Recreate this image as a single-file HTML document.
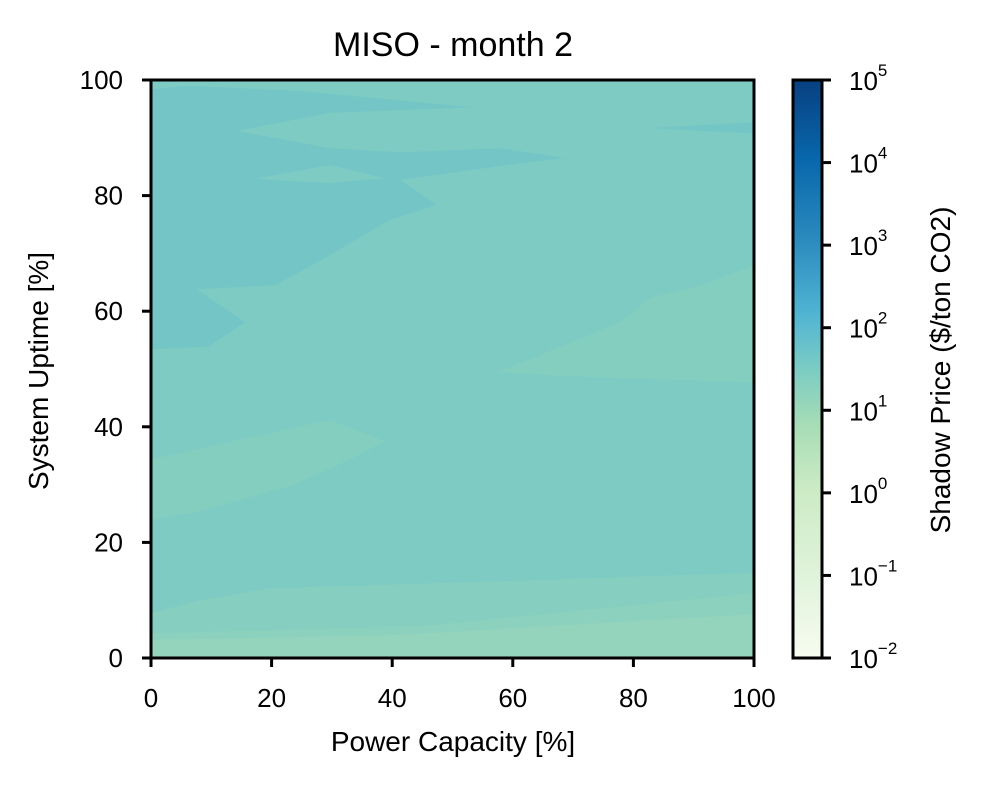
<!DOCTYPE html>
<html><head><meta charset="utf-8"><style>
body{margin:0;background:#fff;}
svg text{font-family:"Liberation Sans",Arial,sans-serif;fill:#000;}
</style></head><body>
<svg id="chart" width="986" height="788" viewBox="0 0 986 788" xmlns="http://www.w3.org/2000/svg">
<defs>
<linearGradient id="cbgrad" x1="0" y1="1" x2="0" y2="0">
<stop offset="0" stop-color="#f7fcf0"/>
<stop offset="0.14" stop-color="#e0f3db"/>
<stop offset="0.29" stop-color="#ccebc5"/>
<stop offset="0.40" stop-color="#a8ddb5"/>
<stop offset="0.50" stop-color="#7bccc4"/>
<stop offset="0.60" stop-color="#4eb3d3"/>
<stop offset="0.72" stop-color="#2b8cbe"/>
<stop offset="0.86" stop-color="#0868ac"/>
<stop offset="1" stop-color="#084081"/>
</linearGradient>
</defs>
<text x="453" y="56" font-size="34" text-anchor="middle">MISO - month 2</text>
<g id="plot"></g>
<rect x="151" y="80" width="603" height="578" fill="none" stroke="#000" stroke-width="3"/>
<g id="xticks"></g>
<g id="yticks"></g>
<text x="453" y="751" font-size="28" text-anchor="middle">Power Capacity [%]</text>
<text transform="translate(48,371) rotate(-90)" font-size="28" text-anchor="middle">System Uptime [%]</text>
<rect x="793" y="80" width="29" height="578" fill="url(#cbgrad)" stroke="#000" stroke-width="3"/>
<g id="cbticks"></g>
<text transform="translate(950,370) rotate(-90)" font-size="28" text-anchor="middle">Shadow Price ($/ton CO2)</text>
</svg>
<script>
const xTicks=[0,20,40,60,80,100];
const yTicks=[0,20,40,60,80,100];
const cbExponents=[-2,-1,0,1,2,3,4,5];
const regionNames=['base','dark-upper-left','light-island','dark-right-sliver','light-right-middle','light-lower-left','band-1','band-2','band-3'];
const regionColors=['#7dcbc3','#74c6c6','#7dcbc3','#74c6c6','#84cec0','#84cec0','#85cec0','#8cd1be','#94d3bc'];
const regionPolys=[
 [[0,0],[100,0],[100,100],[0,100]],
 [[0,98.4],[6.5,99],[24.7,98.1],[53.2,95.3],[29.7,94.3],[14.3,91.2],[29.7,88.2],[41.3,87.5],[57.9,88.2],[68.7,86.5],[61.2,85.6],[41.3,82.7],[47.4,78.4],[39.6,75.8],[29.7,69.7],[20.6,64.5],[7.6,63.8],[15.6,58.1],[9.6,53.9],[0,53.4]],
 [[17.7,83.0],[29.7,85.3],[38.8,83.0],[29.7,82.2],[19.7,82.7]],
 [[82.8,91.7],[100,92.7],[100,90.8],[91.2,91.2]],
 [[57.4,49.5],[64.5,52.4],[77.8,58.1],[82.8,62.3],[91.2,64.5],[100,68.0],[100,47.6],[87.7,48.1],[67.7,48.8]],
 [[0,34.3],[13.1,37.4],[29.7,41.2],[38.8,37.5],[33.0,34.3],[23.2,29.8],[8.1,25.4],[0,23.9]],
 [[0,7.8],[8.1,10.0],[19.7,12.1],[64.5,13.5],[82.8,14.2],[100,14.7],[100,0],[0,0]],
 [[0,4.3],[44.8,5.5],[100,11.2],[100,0],[0,0]],
 [[0,3.1],[41.3,4.0],[100,7.6],[100,0],[0,0]]
];
const X0=151,X1=754,Y0=658,Y1=80;
function xs(v){return X0+(v/100)*(X1-X0);}
function ys(v){return Y0-(v/100)*(Y0-Y1);}
const NS='http://www.w3.org/2000/svg';
const plot=document.getElementById('plot');
regionPolys.forEach((poly,i)=>{
 const p=document.createElementNS(NS,'polygon');
 p.setAttribute('points',poly.map(q=>xs(q[0]).toFixed(1)+','+ys(q[1]).toFixed(1)).join(' '));
 p.setAttribute('fill',regionColors[i]);
 
 
 plot.appendChild(p);
});
const xg=document.getElementById('xticks');
xTicks.forEach(v=>{
 const l=document.createElementNS(NS,'line');
 l.setAttribute('x1',xs(v));l.setAttribute('x2',xs(v));l.setAttribute('y1',658);l.setAttribute('y2',667);
 l.setAttribute('stroke','#000');l.setAttribute('stroke-width','3');
 
 
 xg.appendChild(l);
 const t=document.createElementNS(NS,'text');
 t.setAttribute('x',xs(v));t.setAttribute('y',707);t.setAttribute('font-size','26');t.setAttribute('text-anchor','middle');
 t.textContent=v;
 
 
 xg.appendChild(t);
});
const yg=document.getElementById('yticks');
yTicks.forEach(v=>{
 const l=document.createElementNS(NS,'line');
 l.setAttribute('x1',142);l.setAttribute('x2',151);l.setAttribute('y1',ys(v));l.setAttribute('y2',ys(v));
 l.setAttribute('stroke','#000');l.setAttribute('stroke-width','3');
 
 
 yg.appendChild(l);
 const t=document.createElementNS(NS,'text');
 t.setAttribute('x',123);t.setAttribute('y',ys(v)+9);t.setAttribute('font-size','26');t.setAttribute('text-anchor','end');
 t.textContent=v;
 
 
 yg.appendChild(t);
});
const cg=document.getElementById('cbticks');
function cy(e){return 658-(e+2)/7*578;}
cbExponents.forEach(e=>{
 const l=document.createElementNS(NS,'line');
 l.setAttribute('x1',822);l.setAttribute('x2',831);l.setAttribute('y1',cy(e));l.setAttribute('y2',cy(e));
 l.setAttribute('stroke','#000');l.setAttribute('stroke-width','3');
 
 
 cg.appendChild(l);
 const t=document.createElementNS(NS,'text');
 t.setAttribute('x',849);t.setAttribute('y',cy(e)+10);t.setAttribute('font-size','26');
 t.innerHTML='10<tspan dy="-14" font-size="17">'+(e<0?'\u2212'+(-e):e)+'</tspan>';
 
 
 cg.appendChild(t);
});
</script>
</body></html>
